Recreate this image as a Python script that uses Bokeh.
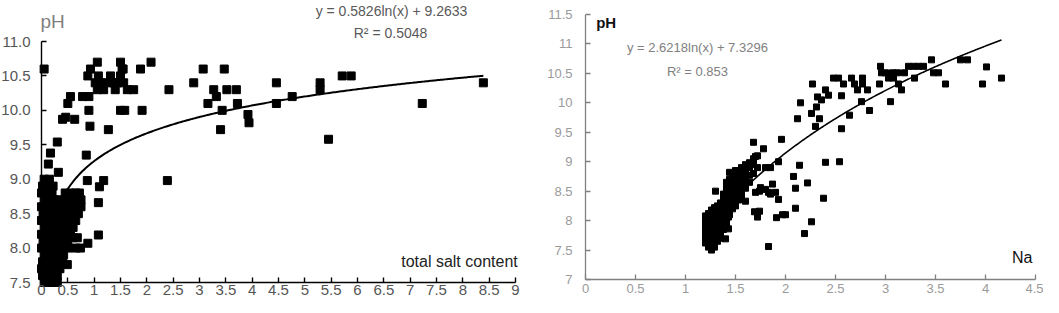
import numpy as np
from bokeh.plotting import figure
from bokeh.layouts import row
from bokeh.models import Range1d, SingleIntervalTicker, NumeralTickFormatter, Label
from bokeh.embed import file_html
from bokeh.resources import INLINE

# ---------------- Left chart data: pH vs total salt content ----------------
left_x = [
    # upper scattered points
    0.05, 1.06, 0.93, 0.88, 1.08, 1.02, 1.06, 1.18, 1.31, 1.37, 1.50, 1.53, 1.50, 1.56, 1.63, 1.75,
    1.88, 2.08, 2.42, 2.89, 3.07, 3.27, 3.32, 3.16, 3.47, 3.52, 3.70, 3.72, 3.43, 3.40, 3.92, 3.94,
    4.46, 4.46, 4.76, 0.55, 0.50, 0.78, 0.90, 0.90, 0.92, 1.27, 1.50, 1.58, 1.91, 0.40, 0.46, 0.63,
    0.30, 0.17, 0.85, 5.29, 5.29, 5.71, 5.88, 5.45, 7.23, 8.39, 2.39, 1.12, 1.25, 1.40, 1.44, 1.55,
    # dense cluster near origin
    0.05, 0.15, 0.25, 0.30,
    0.02, 0.12, 0.22, 0.30,
    0.00, 0.10, 0.20, 0.30, 0.35,
    0.49,
    0.02, 0.12, 0.22, 0.32, 0.40,
    0.05, 0.15, 0.25, 0.35, 0.42,
    0.00, 0.10, 0.20, 0.30, 0.40, 0.50, 0.65, 0.74,
    0.88,
    0.03, 0.13, 0.23, 0.33, 0.43, 0.50,
    0.60, 0.68,
    1.08,
    0.00, 0.10, 0.20, 0.30, 0.40, 0.50, 0.55,
    0.05, 0.15, 0.25, 0.35, 0.45, 0.55, 0.60,
    0.00, 0.10, 0.20, 0.30, 0.40, 0.50, 0.60, 0.65,
    0.03, 0.13, 0.23, 0.33, 0.43, 0.53, 0.63, 0.70,
    0.00, 0.10, 0.20, 0.30, 0.40, 0.50, 0.60, 0.70, 0.75,
    1.08,
    0.05, 0.15, 0.25, 0.35, 0.45, 0.55, 0.65, 0.75,
    0.00, 0.10, 0.20, 0.45, 0.55, 0.65, 0.72,
    1.10,
    0.02, 0.12, 0.22,
    0.87, 1.18,
    0.05, 0.15,
    0.32,
    0.13,
]
left_y = [
    10.60, 10.70, 10.60, 10.50, 10.50, 10.40, 10.30, 10.30, 10.50, 10.40, 10.70, 10.60, 10.50, 10.40, 10.30, 10.30,
    10.60, 10.70, 10.30, 10.40, 10.60, 10.30, 10.20, 10.10, 10.60, 10.30, 10.30, 10.10, 10.00, 9.72, 9.94, 9.82,
    10.40, 10.10, 10.20, 10.20, 10.10, 10.20, 10.20, 10.00, 9.77, 9.72, 10.00, 10.00, 10.00, 9.87, 9.90, 9.87,
    9.54, 9.38, 9.35, 10.40, 10.30, 10.50, 10.50, 9.58, 10.10, 10.40, 8.98, 10.40, 10.40, 10.30, 10.40, 10.60,
    7.50, 7.50, 7.50, 7.50,
    7.60, 7.60, 7.60, 7.60,
    7.70, 7.70, 7.70, 7.70, 7.70,
    7.76,
    7.80, 7.80, 7.80, 7.80, 7.80,
    7.90, 7.90, 7.90, 7.90, 7.90,
    8.00, 8.00, 8.00, 8.00, 8.00, 8.00, 8.00, 8.00,
    8.07,
    8.10, 8.10, 8.10, 8.10, 8.10, 8.10,
    8.15, 8.15,
    8.19,
    8.20, 8.20, 8.20, 8.20, 8.20, 8.20, 8.20,
    8.30, 8.30, 8.30, 8.30, 8.30, 8.30, 8.30,
    8.40, 8.40, 8.40, 8.40, 8.40, 8.40, 8.40, 8.40,
    8.50, 8.50, 8.50, 8.50, 8.50, 8.50, 8.50, 8.50,
    8.60, 8.60, 8.60, 8.60, 8.60, 8.60, 8.60, 8.60, 8.60,
    8.66,
    8.70, 8.70, 8.70, 8.70, 8.70, 8.70, 8.70, 8.70,
    8.80, 8.80, 8.80, 8.80, 8.80, 8.80, 8.80,
    8.89,
    8.90, 8.90, 8.90,
    8.98, 8.98,
    9.00, 9.00,
    9.10,
    9.22,
]
left_fit = (0.5826, 9.2633)          # y = a ln(x) + b
left_fit_span = (0.06, 8.39)
left_x_axis = (0.0, 9.0)
left_y_axis = (7.5, 11.0)

# ---------------- Right chart data: pH vs Na ----------------
right_x = [
    # upper scattered points
    2.12, 2.15, 2.27, 2.26, 2.30, 2.34, 2.32, 2.31, 2.36, 2.40, 2.43, 2.48, 2.53, 2.56, 2.56, 2.58,
    2.64, 2.66, 2.69, 2.72, 2.77, 2.76, 2.82, 2.84, 2.77, 2.95, 2.96, 2.94, 3.00, 3.03, 3.07, 3.12,
    3.13, 3.16, 3.05, 3.08, 3.19, 3.23, 3.28, 3.33, 3.38, 3.29, 3.46, 3.48, 3.53, 3.60, 3.75, 3.82,
    4.01, 3.97, 4.16,
    # middle / lower scattered points
    2.14, 2.08, 2.10, 2.22, 2.10, 2.26, 2.19, 2.38, 2.40, 2.54, 2.00, 1.68, 1.96, 1.78, 1.70, 1.64,
    1.93, 1.87, 1.85, 1.80, 1.93, 1.90, 1.85, 1.74, 1.75, 1.70, 1.97, 1.91, 1.74, 1.69, 1.72, 1.83,
    1.30, 1.80, 1.83, 1.43, 1.40, 1.43,
    # dense band
    1.20, 1.20, 1.20, 1.20, 1.20, 1.20,
    1.23, 1.23, 1.23, 1.23, 1.23, 1.23, 1.23,
    1.26, 1.26, 1.26, 1.26, 1.26, 1.26, 1.26, 1.26,
    1.29, 1.29, 1.29, 1.29, 1.29, 1.29, 1.29, 1.29,
    1.32, 1.32, 1.32, 1.32, 1.32, 1.32, 1.32,
    1.35, 1.35, 1.35, 1.35, 1.35, 1.35, 1.35,
    1.38, 1.38, 1.38, 1.38, 1.38, 1.38, 1.38,
    1.41, 1.41, 1.41, 1.41, 1.41, 1.41, 1.41, 1.41,
    1.44, 1.44, 1.44, 1.44, 1.44, 1.44, 1.44, 1.44,
    1.47, 1.47, 1.47, 1.47, 1.47, 1.47, 1.47,
    1.50, 1.50, 1.50, 1.50, 1.50, 1.50, 1.50,
    1.53, 1.53, 1.53, 1.53, 1.53, 1.53,
    1.56, 1.56, 1.56, 1.56, 1.56, 1.56,
    1.60, 1.60, 1.60, 1.60, 1.60, 1.60,
    1.64, 1.64, 1.64, 1.64,
    1.68, 1.68, 1.68,
    1.72, 1.72,
]
right_y = [
    9.73, 10.00, 10.32, 9.82, 9.60, 9.73, 10.10, 9.93, 10.05, 10.22, 10.13, 10.42, 10.42, 10.12, 9.56, 10.32,
    9.79, 10.42, 10.32, 10.22, 10.42, 10.02, 10.22, 9.87, 10.32, 10.62, 10.51, 10.32, 10.51, 10.42, 10.51, 10.51,
    10.32, 10.22, 10.02, 10.42, 10.51, 10.62, 10.62, 10.62, 10.62, 10.42, 10.73, 10.51, 10.51, 10.32, 10.73, 10.73,
    10.61, 10.32, 10.42,
    8.94, 8.75, 8.55, 8.64, 8.21, 7.98, 7.78, 8.38, 8.99, 9.00, 8.10, 9.33, 9.38, 9.22, 9.09, 8.98,
    9.00, 8.62, 8.90, 8.90, 8.36, 8.48, 8.45, 8.50, 8.56, 8.48, 8.10, 8.05, 8.16, 8.15, 8.06, 7.56,
    8.50, 8.53, 8.48, 7.86, 7.69, 8.06,
    7.62, 7.72, 7.82, 7.92, 8.02, 8.08,
    7.55, 7.65, 7.75, 7.85, 7.95, 8.05, 8.12,
    7.50, 7.60, 7.70, 7.80, 7.90, 8.00, 8.10, 8.18,
    7.55, 7.65, 7.75, 7.85, 7.95, 8.05, 8.15, 8.22,
    7.65, 7.75, 7.85, 7.95, 8.05, 8.15, 8.25,
    7.70, 7.80, 7.90, 8.00, 8.10, 8.20, 8.30,
    7.85, 7.95, 8.05, 8.15, 8.25, 8.35, 8.45,
    7.95, 8.05, 8.15, 8.25, 8.35, 8.45, 8.55, 8.65,
    8.10, 8.20, 8.30, 8.40, 8.50, 8.60, 8.70, 8.82,
    8.20, 8.30, 8.40, 8.50, 8.60, 8.70, 8.80,
    8.25, 8.35, 8.45, 8.55, 8.65, 8.75, 8.85,
    8.35, 8.45, 8.55, 8.65, 8.75, 8.85,
    8.40, 8.50, 8.60, 8.70, 8.80, 8.90,
    8.33, 8.55, 8.65, 8.75, 8.85, 8.95,
    8.65, 8.77, 8.90, 8.98,
    8.80, 8.95, 9.05,
    8.90, 9.10,
]
right_fit = (2.6218, 7.3296)
right_fit_span = (1.20, 4.16)
right_x_axis = (0.0, 4.5)
right_y_axis = (7.0, 11.5)
TICK_STEP = 0.5

FONT = "Liberation Sans"
H = 297


def make_fig(width, ax_x, ax_y, px_left, px_right, px_top, px_bottom):
    """Frame fills the whole figure; axes are fixed at data positions so that
    the plotting area lands exactly where it should."""
    sx = (px_right - px_left) / (ax_x[1] - ax_x[0])
    sy = (px_bottom - px_top) / (ax_y[1] - ax_y[0])
    xr = Range1d(ax_x[0] - px_left / sx, ax_x[1] + (width - px_right) / sx)
    yr = Range1d(ax_y[0] - (H - px_bottom) / sy, ax_y[1] + px_top / sy)
    p = figure(width=width, height=H, output_backend="svg", toolbar_location=None,
               x_range=xr, y_range=yr, title=None,
               min_border=0, min_border_left=0, min_border_right=0,
               min_border_top=0, min_border_bottom=0)
    p.xaxis.fixed_location = ax_y[0]
    p.yaxis.fixed_location = ax_x[0]
    p.xaxis.bounds = ax_x
    p.yaxis.bounds = ax_y
    p.xaxis.ticker = SingleIntervalTicker(interval=TICK_STEP, num_minor_ticks=0)
    p.yaxis.ticker = SingleIntervalTicker(interval=TICK_STEP, num_minor_ticks=0)
    p.xgrid.visible = False
    p.ygrid.visible = False
    p.outline_line_color = None
    return p


def style_axes(p, label_color, line_color, font_x, font_y, standoff_x, standoff_y, fmt_y, lw):
    for ax in (p.xaxis[0], p.yaxis[0]):
        ax.axis_line_color = line_color
        ax.axis_line_width = lw
        ax.major_tick_line_color = line_color
        ax.major_tick_line_width = lw
        ax.major_tick_in = 5
        ax.major_tick_out = 0
        ax.minor_tick_line_color = None
        ax.major_label_text_color = label_color
        ax.major_label_text_font = FONT
    p.xaxis[0].major_label_text_font_size = font_x
    p.yaxis[0].major_label_text_font_size = font_y
    p.xaxis[0].major_label_standoff = standoff_x
    p.yaxis[0].major_label_standoff = standoff_y
    p.xaxis[0].formatter = NumeralTickFormatter(format="0.[0]")
    p.yaxis[0].formatter = NumeralTickFormatter(format=fmt_y)


def lab(p, x, y, text, size, color, align="center", baseline="middle", style="normal"):
    p.add_layout(Label(x=x, y=y, text=text, text_font=FONT, text_font_size=size,
                       text_color=color, text_align=align, text_baseline=baseline,
                       text_font_style=style))


# ---------------- Left figure ----------------
p1 = make_fig(538, left_x_axis, left_y_axis, 41, 515, 41, 282)
style_axes(p1, "#555555", "#000000", "15px", "15px", 2, 11, "0.0", 1.4)
p1.scatter(left_x, left_y, marker="square", size=8, color="black")
xs = np.linspace(left_fit_span[0], left_fit_span[1], 300)
p1.line(xs, left_fit[0] * np.log(xs) + left_fit[1], line_color="black", line_width=2)

lab(p1, -0.02, 11.29, "pH", "19px", "#7f7f7f", align="left", baseline="alphabetic")
lab(p1, 6.646, 11.45, "y = 0.5826ln(x) + 9.2633", "14px", "#595959")
lab(p1, 6.627, 11.12, "R² = 0.5048", "14px", "#595959")
lab(p1, 6.83, 7.81, "total salt  content", "16px", "#222222", align="left")

# ---------------- Right figure ----------------
p2 = make_fig(505, right_x_axis, right_y_axis, 47, 497, 14, 279)
style_axes(p2, "#9a9a9a", "#808080", "13px", "13px", 4, 13, "0.[0]", 1.3)
p2.scatter(right_x, right_y, marker="square", size=6, color="black")
xs2 = np.linspace(right_fit_span[0], right_fit_span[1], 300)
p2.line(xs2, right_fit[0] * np.log(xs2) + right_fit[1], line_color="black", line_width=1.6)

lab(p2, 0.107, 11.357, "pH", "15px", "#111111", align="left", style="bold")
lab(p2, 1.137, 10.944, "y = 2.6218ln(x)  + 7.3296", "13px", "#808080")
lab(p2, 1.12, 10.539, "R² = 0.853", "13px", "#808080")
lab(p2, 4.47, 7.371, "Na", "16px", "#111111", align="right")

layout = row(p1, p2)
open("out.html", "w").write(file_html(layout, INLINE))
